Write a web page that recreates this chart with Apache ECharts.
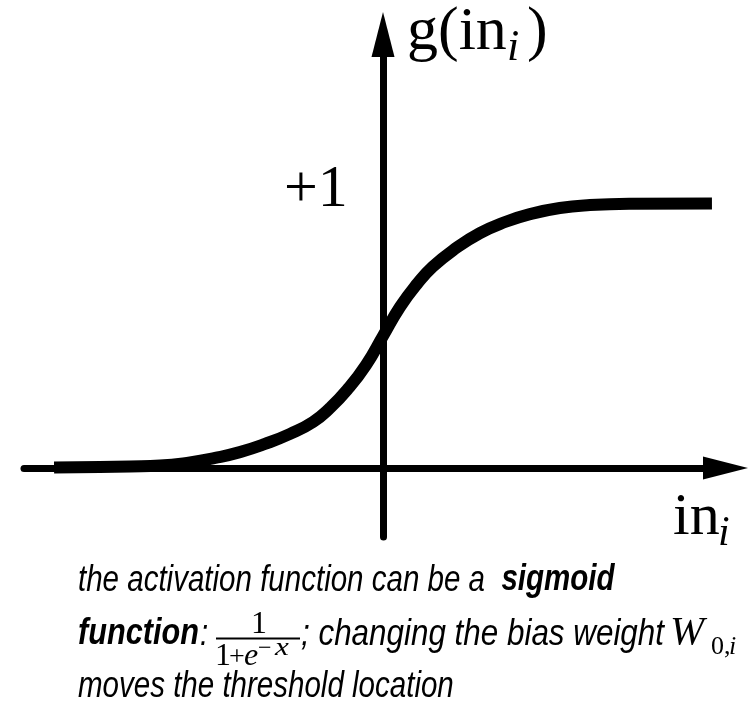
<!DOCTYPE html>
<html>
<head>
<meta charset="utf-8">
<script src="https://cdn.jsdelivr.net/npm/echarts@6/dist/echarts.min.js"></script>
<style>
html,body{margin:0;padding:0;background:#fff;}
#chart{width:749px;height:707px;}
</style>
</head>
<body>
<div id="chart"></div>
<script>
// ---- data (input "in", output g(in)) ----
const curveX = [-7.33, -6.31, -5.64, -4.97, -4.30, -3.74, -3.19, -2.63, -2.07, -1.56, -1.18, -0.80, -0.38, 0, 0.38, 0.76, 1.11, 1.60, 2.16, 2.72, 3.28, 3.94, 4.61, 5.50, 7.33];
const curveY = [0.002, 0.004, 0.006, 0.009, 0.021, 0.038, 0.060, 0.091, 0.129, 0.174, 0.227, 0.295, 0.389, 0.499, 0.609, 0.696, 0.761, 0.828, 0.888, 0.930, 0.960, 0.983, 0.994, 0.999, 1.0];
const xRange = [-8, 7.632];
const yRange = [-0.261, 1.639];

const yAxisLabel = ['g(in', 'i', ')'];
const levelLabel = '+1';
const xAxisLabel = ['in', 'i'];
const captionLine1 = ['the activation function can be a  ', 'sigmoid'];
const captionLine2 = ['function', ':', '; changing the bias weight'];
const fractionNum = '1';
const fractionDen = ['1', '+', 'e', '−', 'x'];
const weightSym = ['W', '0', ',', 'i'];
const captionLine3 = 'moves the threshold location';

function hasFont(name){
  const c = document.createElement('canvas').getContext('2d');
  c.font = '40px monospace';
  const a = c.measureText('abcdefghijklmnop').width;
  c.font = '40px "' + name + '", monospace';
  const b = c.measureText('abcdefghijklmnop').width;
  return Math.abs(a - b) > 0.5;
}
const narrow = hasFont('Liberation Sans Narrow');
const SANS = narrow ? '"Liberation Sans Narrow"' : '"Liberation Sans", Arial';
const SX = narrow ? 1 : 0.82;
const SERIF = '"Liberation Serif", "Times New Roman", serif';
const ctx2d = document.createElement('canvas').getContext('2d');
function measure(text, size, family, italic, bold){
  ctx2d.font = (italic ? 'italic ' : '') + (bold ? 'bold ' : '') + size + 'px ' + family;
  return ctx2d.measureText(text).width;
}

// place text by alphabetic baseline
function txt(text, x, baseline, size, opts){
  opts = opts || {};
  const family = opts.family || SERIF;
  const k = family === SERIF ? 0.3375 : 0.3465;
  return {
    type: 'text',
    x: x, y: baseline - k * size,
    scaleX: opts.scaleX || 1,
    z: 100,
    style: {
      text: text,
      fontFamily: family,
      fontSize: size,
      fontStyle: opts.italic ? 'italic' : 'normal',
      fontWeight: opts.bold ? 'bold' : 'normal',
      fill: '#000',
      align: opts.align || 'left',
      verticalAlign: 'middle'
    }
  };
}

const chart = echarts.init(document.getElementById('chart'), null, {renderer: 'canvas'});
const seriesData = curveX.map((x, i) => [x, curveY[i]]);

const l1w = measure(captionLine1[0], 36, SANS, true, false) * SX;
const fnW = measure(captionLine2[0], 36, SANS, true, true);
const fnScale = (199 - 78) / fnW;
const chW = measure(captionLine2[2], 36, SANS, true, false);
const chScale = (664 - 301) / chW;

const graphics = [
  // y-axis label g(in_i)
  txt(yAxisLabel[0], 407, 54, 62),
  txt(yAxisLabel[1], 507, 63, 44, {italic: true}),
  txt(yAxisLabel[2], 527, 54, 62),
  // +1
  txt(levelLabel, 284, 210, 60),
  // in_i
  txt(xAxisLabel[0], 673, 538, 60),
  txt(xAxisLabel[1], 718, 548, 42, {italic: true}),
  // caption line 1
  txt(captionLine1[0], 78, 593, 36, {family: SANS, italic: true, scaleX: SX}),
  txt(captionLine1[1], 78 + l1w, 593, 36, {family: SANS, italic: true, bold: true, scaleX: SX}),
  // caption line 2
  txt(captionLine2[0], 78, 647, 36, {family: SANS, italic: true, bold: true, scaleX: fnScale}),
  txt(captionLine2[1], 200, 647, 36, {family: SANS, italic: true, scaleX: SX}),
  txt(fractionNum, 259, 635, 32, {align: 'center'}),
  {type: 'line', z: 100, shape: {x1: 216, y1: 638.5, x2: 300, y2: 638.5}, style: {stroke: '#000', lineWidth: 2.2}},
  txt(fractionDen[0], 215, 667, 32),
  txt(fractionDen[1], 229, 667, 28),
  txt(fractionDen[2], 244, 667, 32, {italic: true}),
  txt(fractionDen[3], 258, 657, 24),
  txt(fractionDen[4], 275, 657, 26, {italic: true, scaleX: 1.2}),
  txt(captionLine2[2], 301, 647, 36, {family: SANS, italic: true, scaleX: chScale}),
  txt(weightSym[0], 670, 647, 41, {italic: true}),
  txt(weightSym[1], 711, 656, 26),
  txt(weightSym[2], 724, 656, 26),
  txt(weightSym[3], 729, 656, 26, {italic: true}),
  // caption line 3
  txt(captionLine3, 78, 699, 36, {family: SANS, italic: true, scaleX: SX})
];

chart.setOption({
  animation: false,
  backgroundColor: '#fff',
  grid: {left: 24, right: 23.5, top: 34.5, bottom: 170},
  xAxis: {
    type: 'value', min: xRange[0], max: xRange[1],
    axisLine: {show: true, onZero: true, lineStyle: {color: '#000', width: 7}, symbol: ['none', 'triangle'], symbolSize: [23, 45]},
    axisTick: {show: false}, axisLabel: {show: false}, splitLine: {show: false}
  },
  yAxis: {
    type: 'value', min: yRange[0], max: yRange[1],
    axisLine: {show: true, onZero: true, lineStyle: {color: '#000', width: 7}, symbol: ['none', 'triangle'], symbolSize: [23, 45]},
    axisTick: {show: false}, axisLabel: {show: false}, splitLine: {show: false}
  },
  series: [{
    type: 'line',
    data: seriesData,
    smooth: 0.5,
    showSymbol: false,
    symbol: 'none',
    lineStyle: {color: '#000', width: 12, cap: 'butt', join: 'round'},
    z: 5
  }],
  graphic: graphics
});
</script>
</body>
</html>
